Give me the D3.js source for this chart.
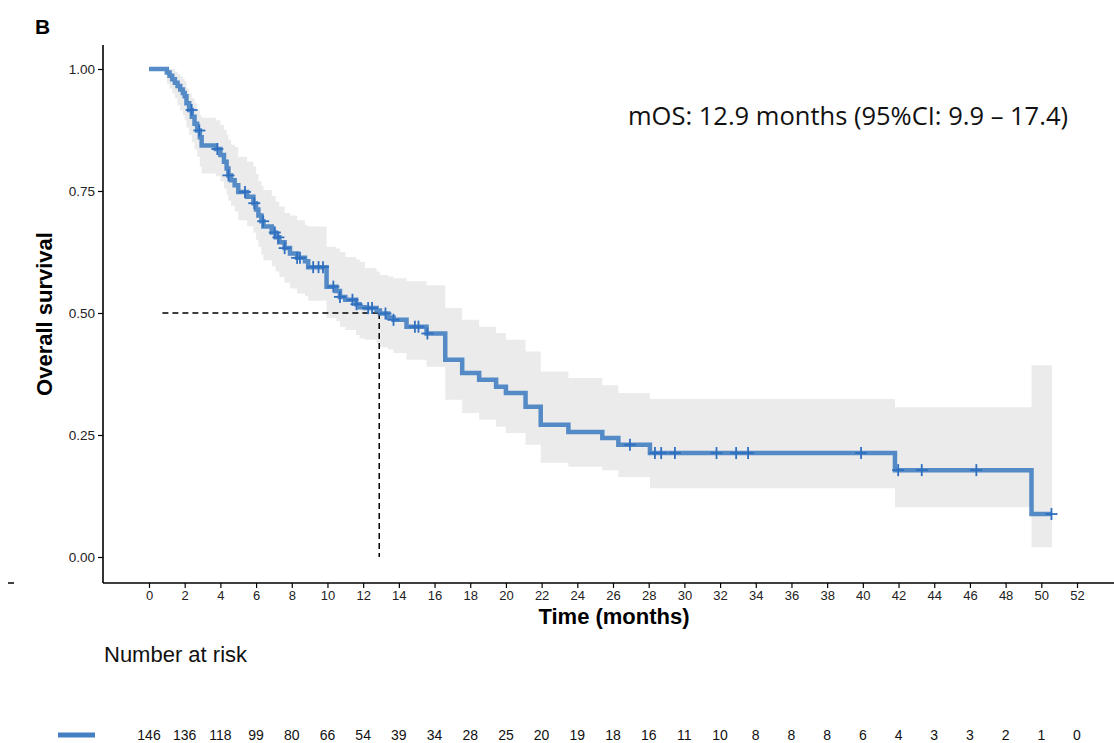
<!DOCTYPE html>
<html><head><meta charset="utf-8">
<script src="https://cdn.jsdelivr.net/npm/d3@7"></script>
<style>body{margin:0;background:#fff}svg{display:block}</style>
</head><body>
<script>
// ---- data ----
const stepTimes = [0,1.0,1.15,1.3,1.45,1.6,1.75,1.9,2.0,2.1,2.25,2.4,2.55,2.7,2.85,2.95,3.75,4.0,4.2,4.35,4.45,4.6,4.8,5.0,5.5,5.85,6.0,6.13,6.3,6.41,6.88,7.1,7.3,7.6,7.9,8.3,8.74,8.92,9.95,10.5,10.7,11.0,11.6,11.8,12.1,12.75,12.94,13.4,13.7,14.43,15.55,16.6,17.55,18.5,19.45,20.0,21.1,21.95,23.5,25.4,26.3,28.07,41.8,49.45];
const survival = [1,.993,.986,.979,.972,.965,.958,.951,.944,.93,.916,.902,.888,.874,.86,.843,.836,.824,.81,.796,.782,.772,.762,.748,.738,.725,.712,.70,.688,.677,.665,.655,.645,.633,.622,.613,.606,.594,.554,.545,.533,.527,.518,.512,.51,.505,.499,.491,.486,.472,.458,.404,.377,.363,.349,.336,.308,.271,.256,.244,.23,.213,.178,.088];
const ciUpper = [1,1,1,1,.995,.99,.985,.98,.975,.96,.95,.94,.93,.915,.905,.90,.895,.885,.875,.865,.855,.845,.84,.82,.81,.80,.785,.77,.76,.752,.74,.728,.718,.705,.70,.69,.68,.677,.636,.632,.625,.615,.61,.605,.592,.585,.578,.575,.571,.565,.557,.51,.486,.472,.459,.445,.421,.38,.367,.352,.336,.324,.307,.393];
const ciLower = [1,.97,.96,.95,.94,.925,.915,.905,.895,.88,.865,.85,.835,.82,.80,.786,.78,.77,.755,.742,.73,.72,.708,.69,.678,.665,.65,.635,.62,.608,.596,.585,.574,.562,.55,.54,.535,.525,.49,.483,.472,.465,.455,.448,.445,.438,.43,.425,.418,.404,.39,.322,.295,.281,.267,.254,.23,.193,.185,.178,.164,.141,.102,.02];
const endTime = 50.6;
const censorTimes = [2.39,2.82,3.83,4.45,5.38,5.9,6.4,7.05,7.25,7.6,8.3,8.46,9.2,9.5,9.75,10.33,10.7,11.4,11.63,12.28,12.5,13.25,13.7,14.9,15.1,15.6,26.95,28.35,28.7,29.47,31.8,32.9,33.57,39.9,41.98,43.3,46.36,50.57];
const xTicks = d3.range(0,53,2);
const yTicks = [0,0.25,0.5,0.75,1];
const riskTimes = d3.range(0,53,2);
const riskCounts = [146,136,118,99,80,66,54,39,34,28,25,20,19,18,16,11,10,8,8,8,6,4,3,3,2,1,0];
const medianOS = 12.9;
const annotation = "mOS: 12.9 months (95%CI: 9.9 \u2013 17.4)";

// ---- drawing ----
const W=1114,H=743;
const svg=d3.select("body").append("svg").attr("width",W).attr("height",H);
const x=d3.scaleLinear().domain([0,52]).range([149,1077]);
const y=d3.scaleLinear().domain([0,1]).range([557,69]);
const col="#4480c2";
const font="'Liberation Sans', Arial, sans-serif";

svg.append("text").attr("x",35).attr("y",34).attr("font-family",font).attr("font-weight","bold").attr("font-size",21).text("B");

// band
const bandData = stepTimes.map((t,i)=>({t,lo:ciLower[i],hi:ciUpper[i]}));
bandData.push({t:endTime,lo:ciLower[ciLower.length-1],hi:ciUpper[ciUpper.length-1]});
svg.append("path").datum(bandData).attr("fill","#ebebeb")
  .attr("d",d3.area().curve(d3.curveStepAfter).x(d=>x(d.t)).y0(d=>y(d.lo)).y1(d=>y(d.hi)));

// dashed median lines
svg.append("line").attr("x1",x(0.75)).attr("x2",x(medianOS)).attr("y1",y(0.5)).attr("y2",y(0.5))
  .attr("stroke","#000").attr("stroke-width",1.5).attr("stroke-dasharray","6,4");
svg.append("line").attr("x1",x(medianOS)).attr("x2",x(medianOS)).attr("y1",y(0.5)).attr("y2",y(0))
  .attr("stroke","#000").attr("stroke-width",1.5).attr("stroke-dasharray","6,4");

// curve
const lineData = stepTimes.map((t,i)=>({t,s:survival[i]}));
lineData.push({t:endTime,s:survival[survival.length-1]});
svg.append("path").datum(lineData).attr("fill","none").attr("stroke",col).attr("stroke-width",4.5).attr("stroke-opacity",0.9)
  .attr("d",d3.line().curve(d3.curveStepAfter).x(d=>x(d.t)).y(d=>y(d.s)));

// censor marks
function survAt(t){let s=1;for(let i=0;i<stepTimes.length;i++){if(stepTimes[i]<=t)s=survival[i];}return s;}
const cg=svg.append("g").attr("stroke","#2f6fc0").attr("stroke-width",1.8);
censorTimes.forEach(t=>{
  const cx=x(t),cy=y(survAt(t));
  cg.append("line").attr("x1",cx-6).attr("x2",cx+6).attr("y1",cy).attr("y2",cy);
  cg.append("line").attr("x1",cx).attr("x2",cx).attr("y1",cy-6).attr("y2",cy+6);
});

// axes
const axisY=583;
svg.append("line").attr("x1",103).attr("x2",W).attr("y1",axisY).attr("y2",axisY).attr("stroke","#000").attr("stroke-width",1.6);
svg.append("line").attr("x1",103).attr("x2",103).attr("y1",45).attr("y2",axisY).attr("stroke","#000").attr("stroke-width",1.6);
const gx=svg.append("g").attr("transform",`translate(0,${axisY})`)
  .call(d3.axisBottom(x).tickValues(xTicks).tickSize(5).tickPadding(3));
gx.select(".domain").remove();
gx.selectAll("text").attr("font-family",font).attr("font-size",13).attr("fill","#222");
gx.selectAll("line").attr("stroke","#000").attr("stroke-width",1.2);
const gy=svg.append("g").attr("transform","translate(103,0)")
  .call(d3.axisLeft(y).tickValues(yTicks).tickFormat(d3.format(".2f")).tickSize(5).tickPadding(3));
gy.select(".domain").remove();
gy.selectAll("text").attr("font-family",font).attr("font-size",13.5).attr("fill","#222");
gy.selectAll("line").attr("stroke","#000").attr("stroke-width",1.2);

svg.append("text").attr("transform","translate(46,314) rotate(-90)").attr("text-anchor","middle").attr("dominant-baseline","middle")
  .attr("font-family",font).attr("font-weight","bold").attr("font-size",22).text("Overall survival");
svg.append("text").attr("x",614).attr("y",624).attr("text-anchor","middle")
  .attr("font-family",font).attr("font-weight","bold").attr("font-size",22).text("Time (months)");

svg.append("text").attr("x",1068).attr("y",125).attr("text-anchor","end")
  .attr("font-family","'Open Sans', sans-serif").attr("font-size",25.5).attr("fill","#111").text(annotation);

// stray tick
svg.append("line").attr("x1",8).attr("x2",14).attr("y1",axisY).attr("y2",axisY).attr("stroke","#000").attr("stroke-width",1.5);

// risk table
svg.append("text").attr("x",104).attr("y",662).attr("font-family",font).attr("font-size",22).attr("fill","#111").text("Number at risk");
svg.append("line").attr("x1",58).attr("x2",95).attr("y1",735).attr("y2",735).attr("stroke",col).attr("stroke-width",5);
svg.append("g").selectAll("text").data(riskCounts).join("text")
  .attr("x",(d,i)=>x(riskTimes[i])).attr("y",740).attr("text-anchor","middle")
  .attr("font-family",font).attr("font-size",14).attr("fill","#111").text(d=>d);
</script>
</body></html>
